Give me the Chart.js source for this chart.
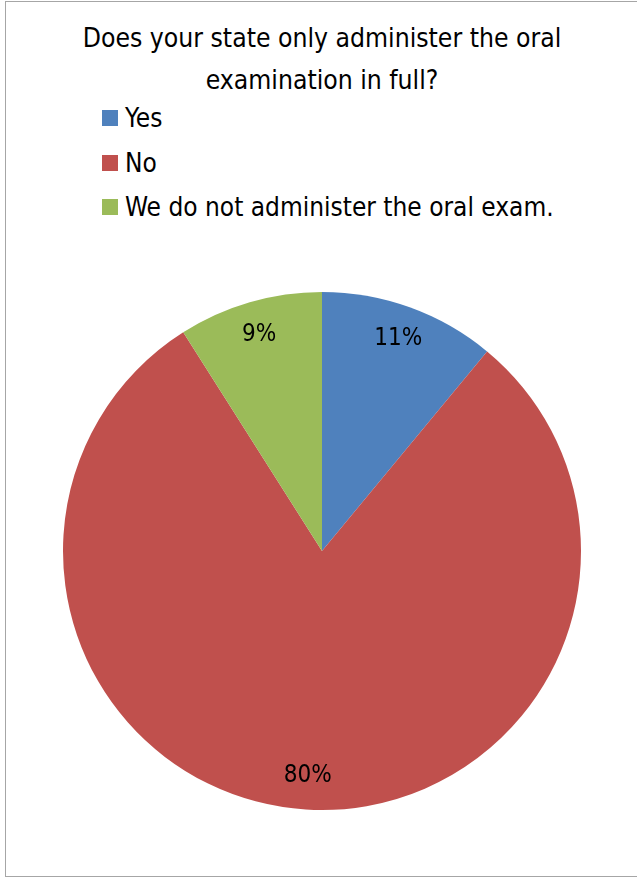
<!DOCTYPE html>
<html>
<head>
<meta charset="utf-8">
<script src="https://cdn.jsdelivr.net/npm/chart.js@4/dist/chart.umd.min.js"></script>
<style>
  html, body { margin: 0; padding: 0; background: #fff; }
  body { width: 637px; height: 877px; position: relative; overflow: hidden;
         font-family: "DejaVu Sans Condensed", "Liberation Sans Narrow", sans-serif; color: #000; }
  .moldura { position: absolute; left: 5px; top: 1px; width: 645px; height: 876px;
             border: 1.5px solid #a6a6a6; box-sizing: border-box; }
  .titulo { position: absolute; left: 0; top: 17px; width: 644px; text-align: center;
            font-size: 26.3px; line-height: 42px; }
  .legenda { position: absolute; left: 102px; top: 96px; font-size: 26px; }
  .legenda div { height: 44.5px; display: flex; align-items: center; }
  .legenda span.cor { width: 16px; height: 16px; margin-right: 7px; display: inline-block; }
  canvas { position: absolute; left: 0; top: 0; }
</style>
</head>
<body>
<div class="moldura"></div>
<div class="titulo">Does your state only administer the oral<br>examination in full?</div>
<div class="legenda" id="legenda"></div>
<div style="position:absolute;left:0;top:0;width:637px;height:877px;">
  <canvas id="grafico"></canvas>
</div>
<script>
const categorias = ["Yes", "No", "We do not administer the oral exam."];
const valores = [11, 80, 9];
const rotulos = ["11%", "80%", "9%"];
const cores = ["#4F81BD", "#C0504D", "#9BBB59"];

// legenda em HTML, um item por linha
function renderizarLegenda() {
    const box = document.getElementById('legenda');
    categorias.forEach((cat, i) => {
        const item = document.createElement('div');
        item.innerHTML = `<span class="cor" style="background:${cores[i]}"></span>${cat}`;
        box.appendChild(item);
    });
}

// rótulos de porcentagem dentro das fatias
const rotulosFatias = {
    id: 'rotulosFatias',
    afterDatasetsDraw(chart) {
        const ctx = chart.ctx;
        const meta = chart.getDatasetMeta(0);
        ctx.save();
        ctx.font = '24px "DejaVu Sans Condensed", sans-serif';
        ctx.fillStyle = '#000';
        ctx.textAlign = 'center';
        ctx.textBaseline = 'middle';
        meta.data.forEach((arc, i) => {
            const p = arc.getProps(['x', 'y', 'startAngle', 'endAngle', 'outerRadius'], true);
            const meio = (p.startAngle + p.endAngle) / 2;
            const r = p.outerRadius * 0.87;
            ctx.fillText(rotulos[i], p.x + Math.cos(meio) * r, p.y + Math.sin(meio) * r);
        });
        ctx.restore();
    }
};

function renderizarGrafico() {
    const ctx = document.getElementById('grafico').getContext('2d');
    new Chart(ctx, {
        type: 'pie',
        data: {
            labels: categorias,
            datasets: [{
                data: valores,
                backgroundColor: cores,
                borderWidth: 0
            }]
        },
        options: {
            responsive: true,
            maintainAspectRatio: false,
            animation: false,
            layout: { padding: { left: 63, right: 56, top: 292, bottom: 67 } },
            plugins: {
                legend: { display: false },
                tooltip: { enabled: false }
            }
        },
        plugins: [rotulosFatias]
    });
}

document.addEventListener('DOMContentLoaded', () => {
    renderizarLegenda();
    renderizarGrafico();
});
</script>
</body>
</html>
